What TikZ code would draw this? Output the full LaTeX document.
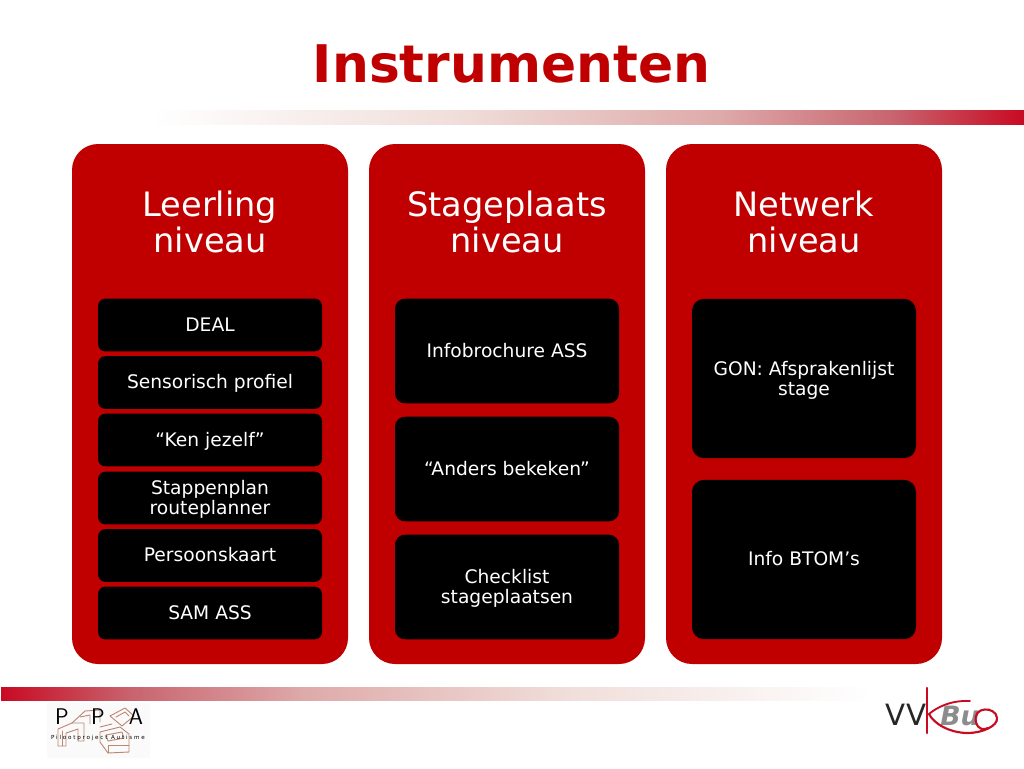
\documentclass[tikz,border=0pt]{standalone}
\usepackage{fontspec}
\setmainfont{DejaVu Sans}
\definecolor{ppared}{RGB}{192,0,0}
\definecolor{barred}{RGB}{200,10,35}
\definecolor{barrose}{RGB}{200,100,110}
\definecolor{barpink}{RGB}{222,170,170}
\definecolor{barpale}{RGB}{240,222,218}
\definecolor{mazeline}{RGB}{190,135,115}
\pgfdeclarehorizontalshading{barfadeleft}{100bp}{color(0bp)=(white); color(25bp)=(white); color(42.5bp)=(barpale); color(57.5bp)=(barpink); color(67.5bp)=(barrose); color(75bp)=(barred); color(100bp)=(barred)}
\pgfdeclarehorizontalshading{barfaderight}{100bp}{color(0bp)=(barred); color(25bp)=(barred); color(32.5bp)=(barrose); color(42.5bp)=(barpink); color(57.5bp)=(barpale); color(75bp)=(white); color(100bp)=(white)}
\tikzset{
	panel/.style={fill=ppared,rounded corners=19.5pt,minimum width=207pt,minimum height=390pt},
	head/.style={text=white,font=\fontsize{25.2}{27.5}\selectfont,align=center},
	item/.style={fill=black,text=white,minimum width=168pt,align=center,font=\fontsize{14}{15}\selectfont},
	small/.style={item,rounded corners=5.5pt,minimum height=39.5pt},
	mid/.style={item,rounded corners=7.5pt,minimum height=78.5pt},
	big/.style={item,rounded corners=9pt,minimum height=119.5pt},
	oneline/.style={text height=12.6pt,text depth=3pt},
	logoletter/.style={font=\fontsize{17}{17}\selectfont\sffamily,inner sep=0pt},
}
\begin{document}
\begin{tikzpicture}[x=0.75pt,y=-0.75pt,line join=round,line cap=round]
	\useasboundingbox (0,0) rectangle (1024,768);
	\node[text=ppared,font=\fontsize{38.9}{40}\selectfont\bfseries] (title) at (511.5,64) {Instrumenten};
	\shade[shading=barfadeleft] (152,110) rectangle (1024,124);
	\shade[shading=barfaderight] (1,687) rectangle (870,700);
	% three columns
	\node[panel] (leerling) at (210,404) {};
	\node[panel] (stage) at (507,404) {};
	\node[panel] (netwerk) at (804,404) {};
	\node[head] (leerlinghead) at (210,222) {Leerling\\niveau};
	\node[head] (stagehead) at (507,222) {Stageplaats\\niveau};
	\node[head] (netwerkhead) at (804,222) {Netwerk\\niveau};
	% column 1
	\node[small,oneline] (deal) at (210,325) {DEAL};
	\node[small,oneline] (profiel) at (210,382.5) {Sensorisch profiel};
	\node[small,oneline] (jezelf) at (210,440) {“Ken jezelf”};
	\node[small] (plan) at (210,498) {\rule{0pt}{12pt}Stappenplan\\routeplanner};
	\node[small,oneline] (kaart) at (210,555.5) {Persoonskaart};
	\node[small,oneline] (sam) at (210,613) {SAM ASS};
	% column 2
	\node[mid,oneline] (brochure) at (507,351) {Infobrochure ASS};
	\node[mid,oneline] (anders) at (507,469) {“Anders bekeken”};
	\node[mid] (checklist) at (507,587) {\rule{0pt}{12pt}Checklist\\stageplaatsen};
	% column 3
	\node[big] (gon) at (804,378.5) {\rule{0pt}{13.5pt}GON: Afsprakenlijst\\stage};
	\node[big,oneline] (btom) at (804,559.5) {Info BTOM’s};
	% logo left
	\fill[black!2] (47,703) rectangle (150,758);
	\begin{scope}[mazeline,line width=0.7pt]
		\draw (58,746)--(58,729)--(72,723)--(84,723)--(84,741)--(78,741)--(78,729)--(66,733)--(66,746)--cycle;
		\draw (62,731)--(62,746);
		\draw (72,723)--(85,711)--(100,710)--(100,722);
		\draw (80,717)--(90,715)--(90,724);
		\draw (110,716)--(125,708)--(134,716)--(122,726)--cycle;
		\draw (116,717)--(125,712)--(129,716);
		\draw (100,732)--(120,727)--(129,734)--(129,752)--(108,753)--(100,742)--cycle;
		\draw (106,735)--(122,732)--(124,738)--(108,741)--cycle;
		\draw (108,753)--(108,745)--(129,745);
		\draw (100,727)--(112,724);
	\end{scope}
	\node[logoletter] (ppap1) at (62,717) {P};
	\node[logoletter] (ppap2) at (98,717) {P};
	\node[logoletter] (ppaa) at (136,717) {A};
	\node[font=\fontsize{4.2}{4.2}\selectfont\addfontfeature{LetterSpace=32},inner sep=0pt] (ppasub) at (98,738) {Pilootproject Autisme};
	% logo right
	\node[font=\fontsize{22}{22}\selectfont,text=black!85,inner sep=0pt] (vv) at (906,715) {VV};
	\node[font=\fontsize{20}{20}\selectfont\bfseries\itshape,text=black!45,inner sep=0pt] (bu) at (960,716) {Bu};
	\coordinate (kbottom) at (927,733);
	\coordinate (ktop) at (927,688);
	\coordinate (kmid) at (929,714);
	\draw[barred,line width=1.9pt] (ktop)--(kbottom);
	\draw[barred,line width=1.4pt] (kmid) .. controls (936,708) and (950,700) .. (970,701);
	\draw[barred,line width=1.6pt] (kmid) .. controls (934,724) and (950,733) .. (968,733) .. controls (982,733) and (998,726) .. (997,718) .. controls (996,706) and (972,706) .. (976,722) .. controls (978,730) and (984,730) .. (988,728);
\end{tikzpicture}
\end{document}
